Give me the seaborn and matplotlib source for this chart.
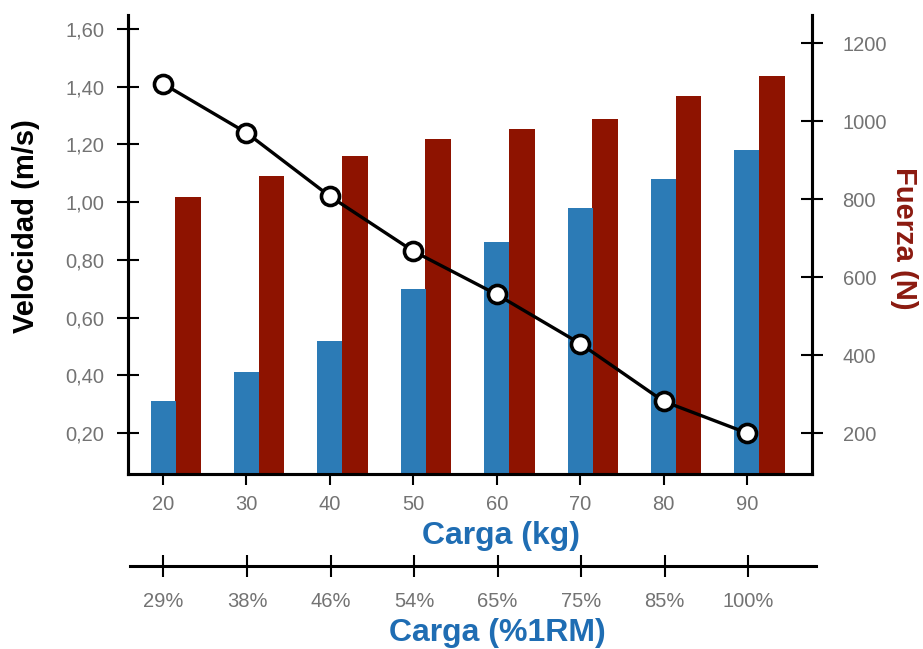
import numpy as np
import pandas as pd
import matplotlib
matplotlib.use('Agg')
import matplotlib.pyplot as plt
import seaborn as sns

# Datos
carga_kg = ["20", "30", "40", "50", "60", "70", "80", "90"]
carga_rm = ["29%", "38%", "46%", "54%", "65%", "75%", "85%", "100%"]
velocidad = [1.41, 1.24, 1.02, 0.83, 0.68, 0.51, 0.31, 0.20]
barras_azules = [0.31, 0.41, 0.52, 0.70, 0.86, 0.98, 1.08, 1.18]
fuerza = [805, 860, 910, 955, 980, 1005, 1065, 1115]

AZUL = "#2c7bb6"
ROJO = "#8e1300"
AZUL_TXT = "#1f6db3"
ROJO_TXT = "#8b1a10"
GRIS = "#737373"

sns.set_style("white")
plt.rcParams['font.family'] = ['Liberation Sans', 'DejaVu Sans']

pos = np.arange(len(carga_kg))
df = pd.DataFrame({
    "pos": pos.astype(float),
    "pos_rojo": pos + 0.30,
    "velocidad": velocidad,
    "azul": barras_azules,
    "fuerza": fuerza,
})

fig = plt.figure(figsize=(9.23, 6.49), dpi=100)
ax = fig.add_axes([128 / 923, 1 - 474 / 649, 684 / 923, 459 / 649])
ax2 = ax.twinx()

# barras rojas (fuerza) en el eje derecho
sns.barplot(data=df, x="pos_rojo", y="fuerza", native_scale=True, width=0.31,
            color=ROJO, saturation=1, ax=ax2, linewidth=0)
# barras azules y velocidad en el eje izquierdo
sns.barplot(data=df, x="pos", y="azul", native_scale=True, width=0.30,
            color=AZUL, saturation=1, ax=ax, linewidth=0)
sns.lineplot(data=df, x="pos", y="velocidad", ax=ax, color="black", lw=2.4,
             marker="o", markersize=13, markerfacecolor="white",
             markeredgecolor="black", markeredgewidth=2.6, zorder=5)

ax.set_zorder(ax2.get_zorder() + 1)
ax.patch.set_visible(False)

xlim = (-0.42, 7.78)
ax.set_xlim(xlim)
ax2.set_xlim(xlim)
ax.set_ylim(0.058, 1.648)
ax2.set_ylim(95, 1272)

ax.set_yticks([0.2, 0.4, 0.6, 0.8, 1.0, 1.2, 1.4, 1.6])
ax.set_yticklabels([f"{v:.2f}".replace(".", ",") for v in ax.get_yticks()])
ax2.set_yticks([200, 400, 600, 800, 1000, 1200])
ax.set_xticks(pos)
ax.set_xticklabels(carga_kg)

for a in (ax, ax2):
    a.spines["top"].set_visible(False)
    for s in ["left", "bottom", "right"]:
        a.spines[s].set_linewidth(2.2)
        a.spines[s].set_color("black")

tick_kw = dict(direction="inout", length=16, width=1.5, colors="black",
               labelcolor=GRIS, labelsize=14.5)
ax.tick_params(axis="y", left=True, right=False, pad=9, **tick_kw)
ax.tick_params(axis="x", bottom=True, pad=7, **tick_kw)
ax2.tick_params(axis="y", left=False, right=True, pad=14, **tick_kw)

ax.set_xlabel("Carga (kg)", fontsize=23, fontweight="bold", color=AZUL_TXT)
ax.xaxis.set_label_coords(501 / 923, 1 - 521 / 649, transform=fig.transFigure)
ax.set_ylabel("Velocidad (m/s)", fontsize=21, fontweight="bold", color="black")
ax.yaxis.set_label_coords(40 / 923, 1 - 226 / 649, transform=fig.transFigure)
ax2.set_ylabel("Fuerza (N)", fontsize=21, fontweight="bold", color=ROJO_TXT,
               rotation=-90, va="bottom")
ax2.yaxis.set_label_coords(890 / 923, 1 - 238 / 649, transform=fig.transFigure)

# segundo eje x: carga en %1RM
ax3 = fig.add_axes([130 / 923, 1 - 566 / 649, 686 / 923, 0.0001])
ax3.patch.set_visible(False)
ax3.set_xlim(xlim[0] + 0.02, xlim[1] + 0.03)
ax3.set_yticks([])
for s in ["top", "left", "right"]:
    ax3.spines[s].set_visible(False)
ax3.spines["bottom"].set_linewidth(2.2)
ax3.spines["bottom"].set_color("black")
ax3.set_xticks(pos)
ax3.set_xticklabels(carga_rm)
ax3.tick_params(axis="x", bottom=True, pad=11, **tick_kw)
ax3.set_xlabel("Carga (%1RM)", fontsize=23, fontweight="bold", color=AZUL_TXT)
ax3.xaxis.set_label_coords(497 / 923, 1 - 618 / 649, transform=fig.transFigure)

fig.savefig("out.png", dpi=100, facecolor="white")
